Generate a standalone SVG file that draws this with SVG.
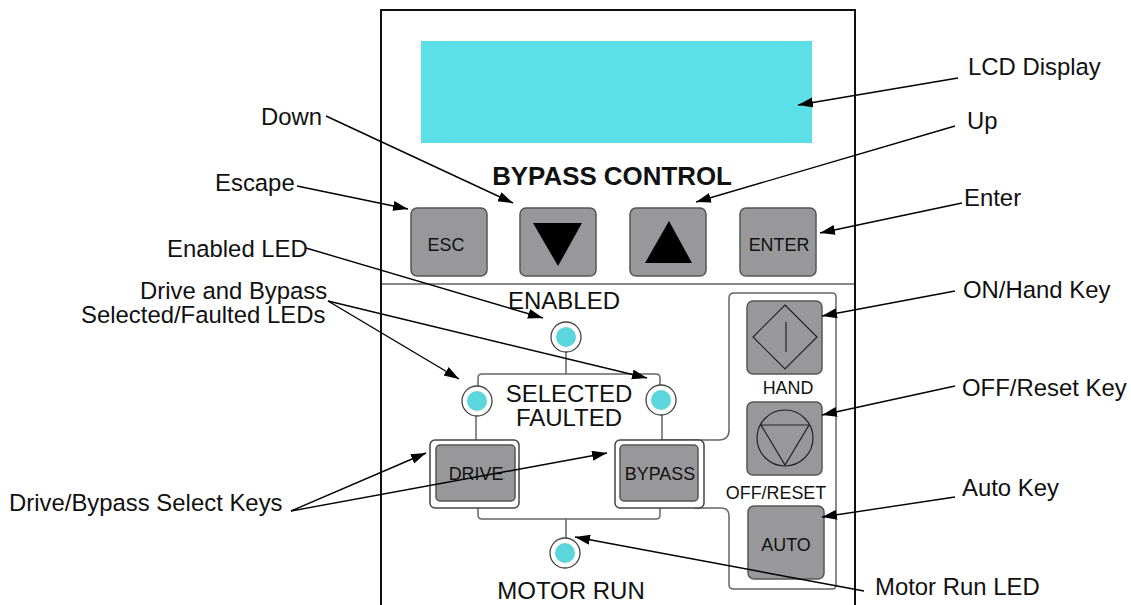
<svg xmlns="http://www.w3.org/2000/svg" width="1131" height="605" viewBox="0 0 1131 605">
<style>
text{font-family:"Liberation Sans",Arial,sans-serif;fill:#111}
.l{font-size:23.9px}
.p{font-size:24px;text-anchor:middle}
.k{font-size:17.9px;text-anchor:middle}
.key{fill:#98989b;stroke:#555;stroke-width:1.5}
.frame{fill:#fff;stroke:#444;stroke-width:1.5}
.w{fill:none;stroke:#666;stroke-width:1.5}
.led{fill:#fff;stroke:#444;stroke-width:1.3}
.dot{fill:#5ad6dc;stroke:none}
.sym{fill:none;stroke:#222;stroke-width:1.2}
.c{fill:none;stroke:#000;stroke-width:1.4;marker-end:url(#a)}
</style>
<defs><marker id="a" markerUnits="userSpaceOnUse" markerWidth="16" markerHeight="12" refX="15" refY="5" orient="auto"><path d="M0 0L15 5L0 10Z" fill="#000"/></marker></defs>
<rect width="1131" height="605" fill="#fff"/>
<g id="panel"><path d="M381 605V10H855V605" fill="none" stroke="#111" stroke-width="2"/><path d="M382 284H854" stroke="#888" stroke-width="2" fill="none"/></g>
<g id="wires">
<path class="w" d="M566 351V374M478 388V378Q478 374 482 374H656Q660 374 660 378V388M476 414V440M662 414V440M660 440H719Q729 440 729 430V298Q729 293 734 293H832Q836 293 836 297V585Q836 589 832 589H734Q729 589 729 585V516Q729 508 721 508H694M478 508V515Q478 519 482 519H656Q660 519 660 515V508M566 519V538"/>
</g>
<g id="lcd"><rect x="421" y="41" width="391" height="102" fill="#5ae0e6"/></g>
<g id="title"><text x="612" y="185" font-size="25.9" font-weight="700" text-anchor="middle">BYPASS CONTROL</text></g>
<g id="esc"><rect class="key" x="411" y="208" width="76" height="68" rx="6"/><text class="k" x="446" y="251">ESC</text></g>
<g id="down"><rect class="key" x="520" y="208" width="76" height="68" rx="6"/><path d="M533 223H582L558 266Z" fill="#000"/></g>
<g id="up"><rect class="key" x="630" y="208" width="76" height="68" rx="6"/><path d="M645 263H692L669 221Z" fill="#000"/></g>
<g id="enter"><rect class="key" x="740" y="208" width="76" height="68" rx="6"/><text class="k" x="779" y="251">ENTER</text></g>
<g id="enabled"><text class="p" x="564" y="309">ENABLED</text><circle class="led" cx="566" cy="337" r="15"/><circle class="dot" cx="566" cy="337" r="10"/></g>
<g id="led-drive"><circle class="led" cx="477" cy="401" r="15"/><circle class="dot" cx="477" cy="401" r="10"/></g>
<g id="led-bypass"><circle class="led" cx="661" cy="400" r="15"/><circle class="dot" cx="661" cy="400" r="10"/></g>
<g id="selected"><text class="p" x="569" y="402">SELECTED</text><text class="p" x="569" y="426">FAULTED</text></g>
<g id="drive"><rect class="frame" x="430" y="440" width="89" height="68" rx="5"/><rect class="key" x="436" y="445" width="79" height="56" rx="4"/><text class="k" x="476" y="480">DRIVE</text></g>
<g id="bypass"><rect class="frame" x="615" y="440" width="89" height="68" rx="5" stroke-width="2"/><rect class="key" x="620" y="445" width="78" height="56" rx="4"/><text class="k" x="660" y="480">BYPASS</text></g>
<g id="motor"><circle class="led" cx="565" cy="553" r="15"/><circle class="dot" cx="565" cy="553" r="10"/><text class="p" x="571" y="599">MOTOR RUN</text></g>
<g id="hand"><rect class="key" x="747" y="301" width="75" height="73" rx="6"/><path class="sym" d="M785 305L817 337L785 369L753 337Z"/><path class="sym" d="M786 322V352"/><text class="k" x="788" y="394">HAND</text></g>
<g id="off"><rect class="key" x="747" y="402" width="75" height="73" rx="6"/><circle class="sym" cx="785" cy="438" r="28"/><path class="sym" d="M761 425H809L785 465Z"/><text class="k" x="776" y="499">OFF/RESET</text></g>
<g id="auto"><rect class="key" x="748" y="506" width="76" height="73" rx="6"/><text class="k" x="786" y="551">AUTO</text></g>
<g id="connectors">
<path class="c" d="M958 78L798 105"/>
<path class="c" d="M326 116L513 203"/>
<path class="c" d="M955 126L696 202"/>
<path class="c" d="M297 186L408 209"/>
<path class="c" d="M962 203L820 233"/>
<path class="c" d="M306 248L543 318"/>
<path class="c" d="M328 301L459 379"/>
<path class="c" d="M328 301L647 378"/>
<path class="c" d="M955 291L822 316"/>
<path class="c" d="M955 386L822 415"/>
<path class="c" d="M955 497L822 517"/>
<path class="c" d="M864 591L575 537"/>
<path class="c" d="M291 511L426 453"/>
<path class="c" d="M291 511L607 453"/>
</g>
<g id="labels">
<text class="l" x="968" y="75">LCD Display</text>
<text class="l" x="261" y="125">Down</text>
<text class="l" x="967" y="129">Up</text>
<text class="l" x="215" y="191">Escape</text>
<text class="l" x="964" y="206">Enter</text>
<text class="l" x="167" y="257">Enabled LED</text>
<text class="l" x="140" y="299">Drive and Bypass</text>
<text class="l" x="81" y="323">Selected/Faulted LEDs</text>
<text class="l" x="963" y="298">ON/Hand Key</text>
<text class="l" x="962" y="396">OFF/Reset Key</text>
<text class="l" x="962" y="496">Auto Key</text>
<text class="l" x="9" y="511">Drive/Bypass Select Keys</text>
<text class="l" x="875" y="595">Motor Run LED</text>
</g>
</svg>
